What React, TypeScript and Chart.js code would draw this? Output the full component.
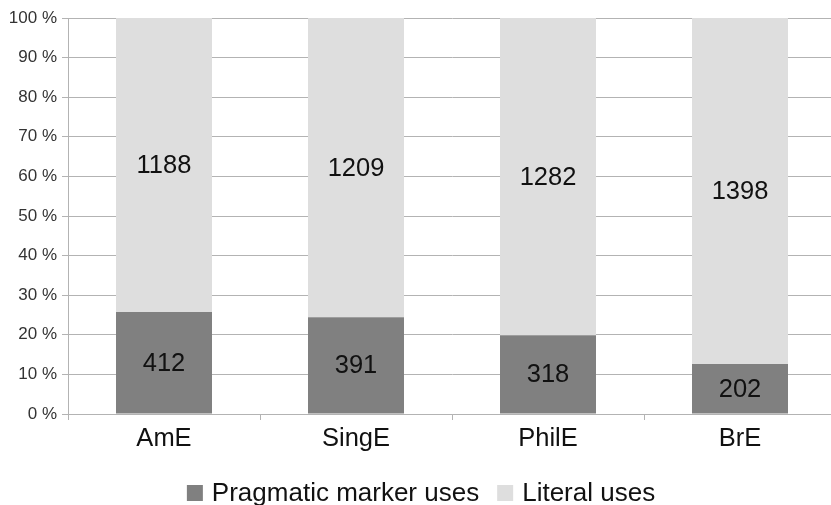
import React, { useEffect, useRef } from "react";
import { Chart, registerables } from "chart.js";

Chart.register(...registerables);

const varieties = ["AmE", "SingE", "PhilE", "BrE"];
const pragmaticCounts = [412, 391, 318, 202];
const literalCounts = [1188, 1209, 1282, 1398];
const seriesNames = ["Pragmatic marker uses", "Literal uses"];
const seriesColors = ["#808080", "#dedede"];

const FONT = "'Liberation Sans', Arial, sans-serif";
const GRID = "#b3b3b3";

const totals = varieties.map((_, i) => pragmaticCounts[i] + literalCounts[i]);
const pragmaticShare = pragmaticCounts.map((v, i) => (v / totals[i]) * 100);
const literalShare = literalCounts.map((v, i) => (v / totals[i]) * 100);
const countsBySeries = [pragmaticCounts, literalCounts];

// Writes the raw count in the middle of every stacked segment.
const segmentCounts = {
  id: "segmentCounts",
  afterDatasetsDraw(chart: any) {
    const ctx = chart.ctx;
    ctx.save();
    ctx.font = `25.5px ${FONT}`;
    ctx.fillStyle = "#111";
    ctx.textAlign = "center";
    ctx.textBaseline = "middle";
    chart.data.datasets.forEach((_: any, di: number) => {
      const meta = chart.getDatasetMeta(di);
      meta.data.forEach((bar: any, i: number) => {
        const { x, y, base } = bar.getProps(["x", "y", "base"], true);
        ctx.fillText(String(countsBySeries[di][i]), x, (y + base) / 2 + 1);
      });
    });
    ctx.restore();
  },
};

// Legend row along the bottom edge.
const bottomLegend = {
  id: "bottomLegend",
  afterDraw(chart: any) {
    const ctx = chart.ctx;
    ctx.save();
    ctx.font = `26px ${FONT}`;
    const box = 16;
    const gap = 9;
    const itemGap = 18;
    const widths = seriesNames.map((n) => ctx.measureText(n).width);
    const total =
      widths.reduce((a, w) => a + box + gap + w, 0) + itemGap * (seriesNames.length - 1);
    let x = chart.width / 2 + 3 - total / 2;
    const baseline = chart.height - 4;
    seriesNames.forEach((name, i) => {
      ctx.fillStyle = seriesColors[i];
      ctx.fillRect(x, baseline - box, box, box);
      x += box + gap;
      ctx.fillStyle = "#111";
      ctx.textBaseline = "alphabetic";
      ctx.textAlign = "left";
      ctx.fillText(name, x, baseline);
      x += widths[i] + itemGap;
    });
    ctx.restore();
  },
};

export default function App() {
  const canvasRef = useRef<HTMLCanvasElement>(null);

  useEffect(() => {
    const canvas = canvasRef.current;
    if (!canvas) return;
    const chart = new Chart(canvas, {
      type: "bar",
      data: {
        labels: varieties,
        datasets: [
          {
            label: seriesNames[0],
            data: pragmaticShare,
            backgroundColor: seriesColors[0],
            borderWidth: 0,
          },
          {
            label: seriesNames[1],
            data: literalShare,
            backgroundColor: seriesColors[1],
            borderWidth: 0,
          },
        ],
      },
      options: {
        responsive: false,
        animation: false,
        layout: { padding: { top: 18, left: 0, right: 0, bottom: 0 } },
        datasets: { bar: { categoryPercentage: 1, barPercentage: 0.5 } },
        plugins: {
          legend: { display: false },
          tooltip: { enabled: false },
        },
        scales: {
          x: {
            stacked: true,
            afterFit: (scale: any) => {
              scale.height = 91;
            },
            grid: {
              display: true,
              drawOnChartArea: false,
              drawTicks: true,
              tickLength: 6,
              color: GRID,
              offset: true,
            },
            border: { color: GRID },
            ticks: {
              font: { family: FONT, size: 25.5 },
              color: "#111",
              padding: 4,
            },
          },
          y: {
            stacked: true,
            min: 0,
            max: 100,
            afterFit: (scale: any) => {
              scale.width = 68;
            },
            grid: { color: GRID, tickLength: 6 },
            border: { color: GRID },
            ticks: {
              stepSize: 10,
              padding: 5,
              font: { family: FONT, size: 17 },
              color: "#333",
              callback: (v: any) => `${v} %`,
            },
          },
        },
      },
      plugins: [segmentCounts, bottomLegend],
    });
    return () => chart.destroy();
  }, []);

  // The plot runs slightly past the right edge of the visible frame.
  return (
    <div
      style={{
        position: "fixed",
        left: 0,
        top: 0,
        width: 831,
        height: 505,
        overflow: "hidden",
        background: "#fff",
      }}
    >
      <canvas ref={canvasRef} width={836} height={505} style={{ display: "block" }} />
    </div>
  );
}
